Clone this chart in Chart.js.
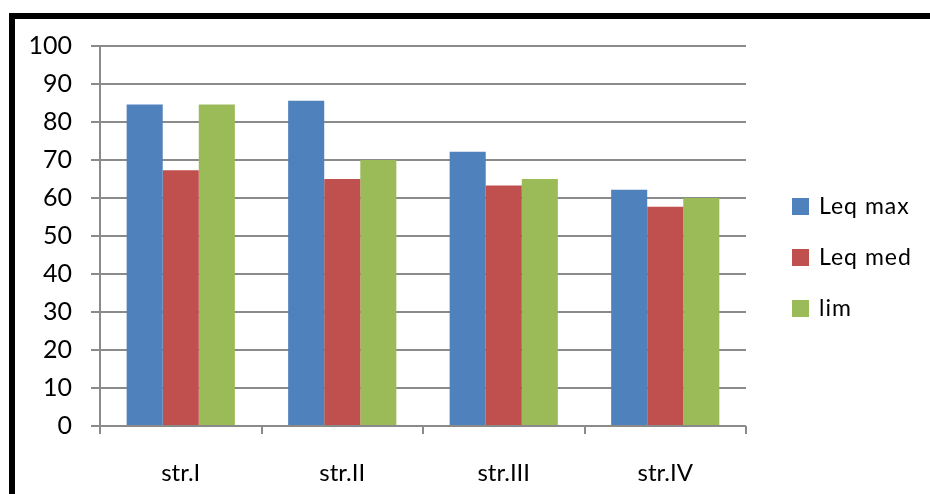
<!DOCTYPE html>
<html>
<head>
<meta charset="utf-8">
<script src="https://cdn.jsdelivr.net/npm/chart.js@4"></script>
<style>
  html, body { margin: 0; padding: 0; background: #fff; }
  #wrap { width: 930px; height: 494px; }
</style>
</head>
<body>
<div id="wrap"><canvas id="chart" width="930" height="494"></canvas></div>
<script>
// categories
const streets = ["str.I", "str.II", "str.III", "str.IV"];
// series
const leqMax = [84.6, 85.6, 72.2, 62.2];
const leqMed = [67.3, 65.0, 63.3, 57.7];
const lim = [84.6, 70, 65, 60];

const FONT = "Lato, 'Liberation Sans', sans-serif";
const GRID = "#8a8a8a";

const ctx = document.getElementById("chart").getContext("2d");

new Chart(ctx, {
  type: "bar",
  data: {
    labels: streets,
    datasets: [
      { label: "Leq max", data: leqMax, backgroundColor: "#4F81BD" },
      { label: "Leq med", data: leqMed, backgroundColor: "#C0504D" },
      { label: "lim", data: lim, backgroundColor: "#9BBB59" },
    ],
  },
  options: {
    responsive: false,
    animation: false,
    layout: { padding: { top: 46, right: 184, bottom: 0, left: 0 } },
    datasets: { bar: { categoryPercentage: 0.67, barPercentage: 1 } },
    plugins: { legend: { display: false }, tooltip: { enabled: false } },
    scales: {
      x: {
        offset: true,
        grid: { offset: true, drawOnChartArea: false, color: GRID, lineWidth: 2, tickLength: 8 },
        border: { display: false },
        ticks: { color: "#000", font: { family: FONT, size: 24 }, padding: 25 },
        afterFit: (s) => { s.height = 494 - 426; },
      },
      y: {
        min: 0,
        max: 100,
        grid: { color: GRID, lineWidth: 2, tickLength: 9 },
        border: { color: GRID, width: 2 },
        ticks: { stepSize: 10, color: "#000", font: { family: FONT, size: 25 }, padding: 19 },
        afterFit: (s) => { s.width = 100; },
      },
    },
  },
  plugins: [
    {
      // черная рамка
      id: "frame",
      beforeDraw(chart) {
        const c = chart.ctx;
        c.save();
        c.fillStyle = "#000";
        c.fillRect(9, 13, 930, 6);
        c.fillRect(9, 13, 6, 494);
        c.restore();
      },
    },
    {
      // легенда справа
      id: "sideLegend",
      afterDraw(chart) {
        const c = chart.ctx;
        c.save();
        c.font = "23px " + FONT;
        c.letterSpacing = "1px";
        c.textBaseline = "middle";
        chart.data.datasets.forEach((ds, i) => {
          const y = 198 + i * 51;
          c.fillStyle = ds.backgroundColor;
          c.fillRect(792, y, 17, 17);
          c.fillStyle = "#000";
          c.fillText(ds.label, 819, y + 9);
        });
        c.restore();
      },
    },
  ],
});
</script>
</body>
</html>
